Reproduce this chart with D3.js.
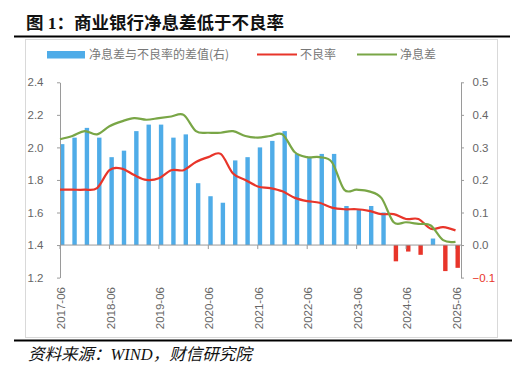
<!DOCTYPE html>
<html><head><meta charset="utf-8">
<script src="https://cdn.jsdelivr.net/npm/d3@7"></script>
<style>
body{margin:0;background:#fff;}
svg{display:block;}
</style></head>
<body>
<svg id="c" width="528" height="371"></svg>
<script>
const categories = ["2017-06","2017-09","2017-12","2018-03","2018-06","2018-09","2018-12","2019-03","2019-06","2019-09","2019-12","2020-03","2020-06","2020-09","2020-12","2021-03","2021-06","2021-09","2021-12","2022-03","2022-06","2022-09","2022-12","2023-03","2023-06","2023-09","2023-12","2024-03","2024-06","2024-09","2024-12","2025-03","2025-06"];
const nim = [2.05,2.07,2.10,2.08,2.13,2.16,2.18,2.17,2.18,2.19,2.20,2.10,2.09,2.09,2.10,2.07,2.06,2.07,2.08,1.97,1.94,1.94,1.91,1.74,1.74,1.73,1.69,1.54,1.54,1.53,1.52,1.43,1.42];
const npl = [1.74,1.74,1.74,1.75,1.86,1.87,1.83,1.80,1.81,1.86,1.86,1.91,1.94,1.96,1.84,1.80,1.76,1.75,1.73,1.69,1.67,1.66,1.63,1.62,1.62,1.61,1.59,1.59,1.56,1.56,1.50,1.51,1.49];
const spread = [0.31,0.33,0.36,0.33,0.27,0.29,0.35,0.37,0.37,0.33,0.34,0.19,0.15,0.13,0.26,0.27,0.30,0.32,0.35,0.28,0.27,0.28,0.28,0.12,0.11,0.12,0.10,-0.05,-0.02,-0.03,0.02,-0.08,-0.07];
const xTickLabels = ["2017-06","2018-06","2019-06","2020-06","2021-06","2022-06","2023-06","2024-06","2025-06"];
const leftTicks = [1.2,1.4,1.6,1.8,2.0,2.2,2.4];
const rightTicks = [-0.1,0.0,0.1,0.2,0.3,0.4,0.5];
const seriesNames = ["净息差与不良率的差值(右)","不良率","净息差"];

const BLUE="#4FACE8", RED="#E8352A", GREEN="#79A646", AX="#9a9a9a", TXT="#666666";
const svg = d3.select("#c");
const cjk = "'Noto Sans CJK SC','Noto Sans',sans-serif";

// title
svg.append("text").attr("x",26).attr("y",29)
  .attr("font-family","'Liberation Serif','Noto Sans CJK SC',serif")
  .attr("font-weight","bold").attr("font-size",17.5).attr("fill","#111")
  .text("图 1：商业银行净息差低于不良率");
svg.append("line").attr("x1",14).attr("x2",510).attr("y1",36.5).attr("y2",36.5)
  .attr("stroke","#000").attr("stroke-width",2);
// frame
svg.append("rect").attr("x",25.5).attr("y",39.5).attr("width",472).attr("height",298)
  .attr("fill","#fff").attr("stroke","#d9d9d9").attr("stroke-width",1);
// footer
svg.append("line").attr("x1",14).attr("x2",512).attr("y1",340.5).attr("y2",340.5)
  .attr("stroke","#000").attr("stroke-width",2);
svg.append("text").attr("x",28).attr("y",360)
  .attr("font-family","'Liberation Serif','Noto Sans CJK SC',serif")
  .attr("font-style","italic").attr("font-size",16.5).attr("fill","#111")
  .text("资料来源：WIND，财信研究院");

// scales
const x = d3.scaleLinear().domain([0,categories.length-1]).range([60,455.5]);
const yL = d3.scaleLinear().domain([1.2,2.4]).range([277.6,82.3]);
const yR = d3.scaleLinear().domain([-0.1,0.5]).range([277.6,82.3]);

// bars
svg.append("g").selectAll("rect").data(spread).join("rect")
  .attr("x",(d,i)=>x(i)).attr("width",4.4)
  .attr("y",d=>yR(Math.max(0,d))).attr("height",d=>Math.abs(yR(d)-yR(0)))
  .attr("fill",d=>d<0?RED:BLUE);

// axes
const gL = svg.append("g").attr("transform","translate(60,0)")
  .call(d3.axisLeft(yL).tickValues(leftTicks).tickFormat(d3.format(".1f")).tickSize(3).tickPadding(13.5).tickSizeOuter(0));
const gR = svg.append("g").attr("transform","translate(461,0)")
  .call(d3.axisRight(yR).tickValues(rightTicks).tickFormat(d3.format(".1f")).tickSize(3).tickPadding(8.5).tickSizeOuter(0));
[gL,gR].forEach(g=>{
  g.select(".domain").attr("stroke",AX);
  g.selectAll(".tick line").attr("stroke",AX);
  g.selectAll("text").attr("font-family","'Liberation Sans',Arial,sans-serif").attr("font-size",11.5).attr("fill",TXT);
});
gR.selectAll("text").filter(d=>d<0).attr("fill",RED);

// x axis at zero
const gx = svg.append("g");
gx.append("line").attr("x1",60).attr("x2",461).attr("y1",yR(0)).attr("y2",yR(0)).attr("stroke",AX);
xTickLabels.forEach(lbl=>{
  const i = categories.indexOf(lbl);
  gx.append("line").attr("x1",x(i)).attr("x2",x(i)).attr("y1",yR(0)).attr("y2",yR(0)+4).attr("stroke",AX);
  gx.append("text").attr("transform",`translate(${x(i)+1},287) rotate(-90)`)
    .attr("text-anchor","end").attr("dy","0.36em")
    .attr("font-family","'Liberation Sans',Arial,sans-serif").attr("font-size",11.5).attr("fill",TXT)
    .text(lbl);
});

// lines
const lineGen = ys => d3.line().x((d,i)=>x(i)).y(d=>yL(d)).curve(d3.curveCardinal.tension(0))(ys);
svg.append("path").attr("d",lineGen(npl)).attr("fill","none").attr("stroke",RED).attr("stroke-width",2.2);
svg.append("path").attr("d",lineGen(nim)).attr("fill","none").attr("stroke",GREEN).attr("stroke-width",2.2);

// legend
const lg = svg.append("g").attr("font-family",cjk).attr("font-size",12).attr("fill","#777");
lg.append("rect").attr("x",47).attr("y",51).attr("width",38).attr("height",7.5).attr("fill",BLUE);
lg.append("text").attr("x",89).attr("y",54.5).attr("dy","0.35em").text(seriesNames[0]);
lg.append("line").attr("x1",257).attr("x2",297).attr("y1",54.5).attr("y2",54.5).attr("stroke",RED).attr("stroke-width",2.2);
lg.append("text").attr("x",300).attr("y",54.5).attr("dy","0.35em").text(seriesNames[1]);
lg.append("line").attr("x1",357).attr("x2",397).attr("y1",54.5).attr("y2",54.5).attr("stroke",GREEN).attr("stroke-width",2.2);
lg.append("text").attr("x",400).attr("y",54.5).attr("dy","0.35em").text(seriesNames[2]);
</script>
</body></html>
